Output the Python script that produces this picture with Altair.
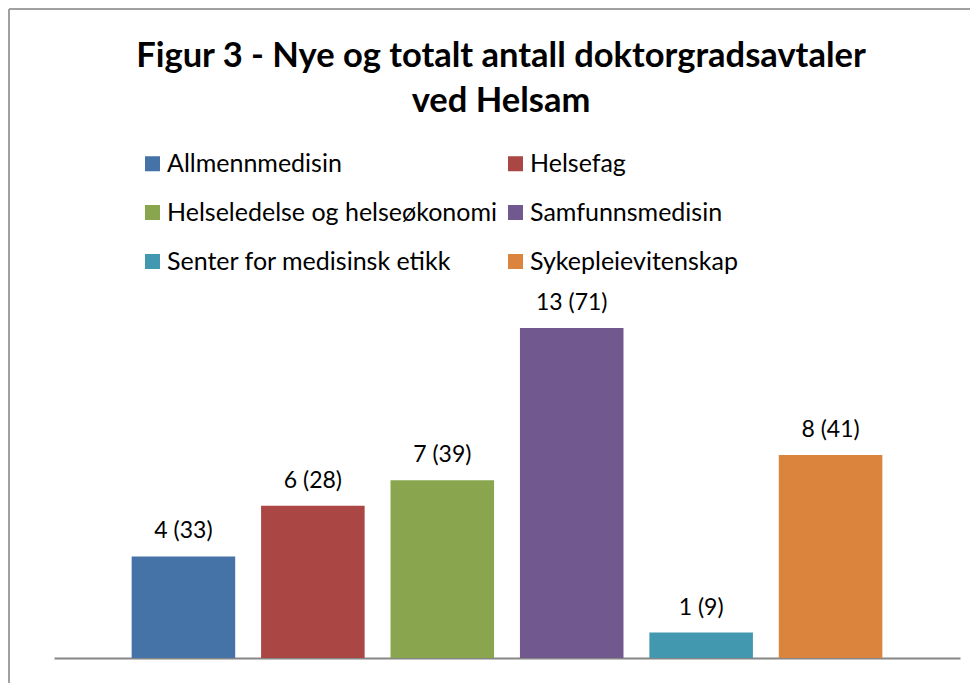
import altair as alt
import pandas as pd

categories = ["Allmennmedisin", "Helsefag", "Helseledelse og helseøkonomi",
              "Samfunnsmedisin", "Senter for medisinsk etikk", "Sykepleievitenskap"]
new_agreements = [4, 6, 7, 13, 1, 8]
total_agreements = [33, 28, 39, 71, 9, 41]
colors = ["#4572A7", "#AA4643", "#89A54E", "#71588F", "#4198AF", "#DB843D"]

df = pd.DataFrame({
    "fag": categories,
    "ny": new_agreements,
    "total": total_agreements,
})
df["label"] = [f"{n} ({t})" for n, t in zip(new_agreements, total_agreements)]

FONT = "Lato"

x = alt.X("fag:N", sort=categories, axis=alt.Axis(
    title=None, labels=False, ticks=False, domainColor="#868686", domainWidth=2),
    scale=alt.Scale(paddingInner=0.2, paddingOuter=0.6))
y = alt.Y("ny:Q", axis=None, scale=alt.Scale(domain=[0, 25.6]))

bars = alt.Chart(df).mark_bar().encode(
    x=x, y=y,
    color=alt.Color("fag:N", sort=categories,
                    scale=alt.Scale(domain=categories, range=colors),
                    legend=alt.Legend(
                        title=None, orient="none", legendX=86, legendY=143,
                        columns=2, direction="horizontal",
                        symbolType="square", symbolSize=225,
                        symbolStrokeWidth=0, labelFontSize=25, labelFont=FONT,
                        labelColor="#000000", labelOffset=2, rowPadding=23,
                        columnPadding=5, padding=0, labelLimit=400)),
)

labels = alt.Chart(df).mark_text(font=FONT, fontSize=23, dy=-25, color="#000000",
                                 baseline="middle").encode(
    x=x, y=y, text="label:N")

border_left = alt.Chart(df).mark_rule(color="#A0A0A0", strokeWidth=2).encode(
    x=alt.value(-45), y=alt.value(1), y2=alt.value(675))
border_top = alt.Chart(df).mark_rule(color="#A0A0A0", strokeWidth=2).encode(
    x=alt.value(-45), x2=alt.value(920), y=alt.value(1))

chart = alt.layer(border_left, border_top, bars, labels).properties(
    width=906, height=650,
    autosize=alt.AutoSizeParams(type="none"),
    padding={"left": 46, "right": 10, "top": 0, "bottom": 25},
    title=alt.Title(["Figur 3 - Nye og totalt antall doktorgradsavtaler", "ved Helsam"],
                    font=FONT, fontSize=34.5, fontWeight="bold", color="#000000",
                    anchor="middle", baseline="top", dy=115, dx=-6, lineHeight=45),
).configure_view(stroke=None)

chart.save("out.html", embed_options={"renderer": "svg", "actions": False})
